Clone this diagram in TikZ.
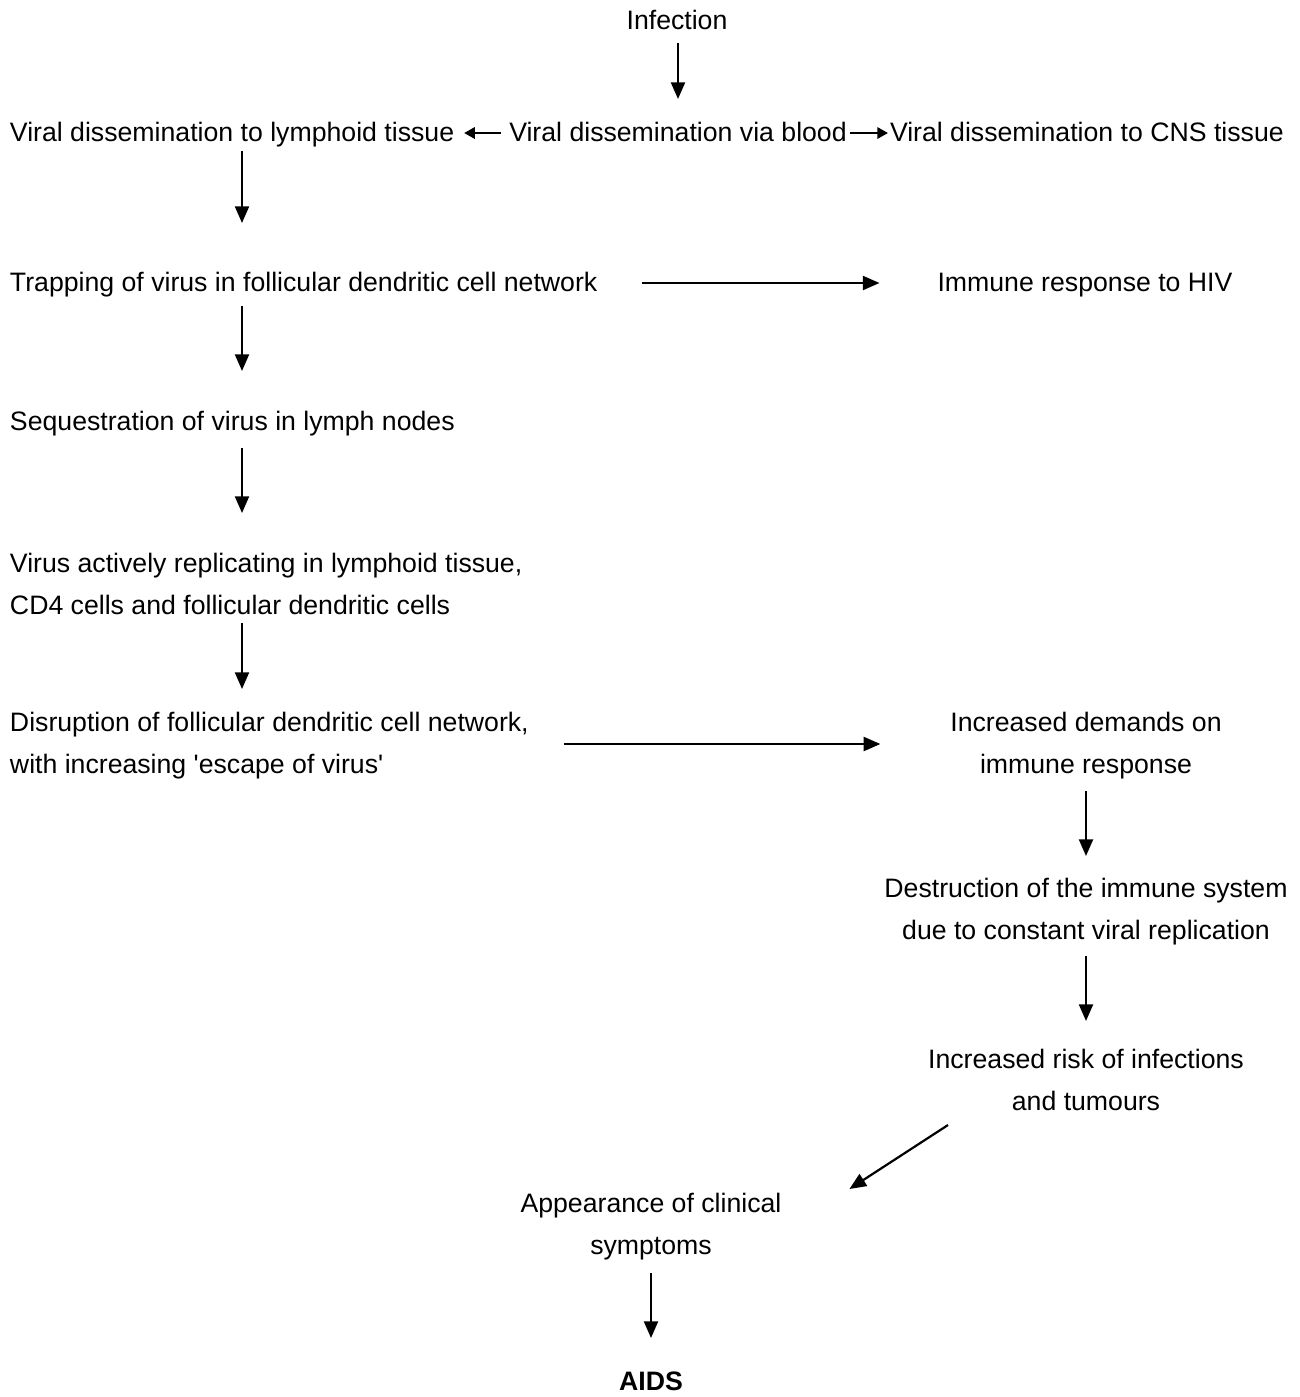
\documentclass[tikz,border=0pt]{standalone}
\usepackage{fontspec}
\setmainfont{Liberation Sans}
\usetikzlibrary{arrows.meta,calc}
\begin{document}
\begin{tikzpicture}[x=0.75pt,y=-0.75pt,
  every node/.style={inner sep=0pt,outer sep=0pt,font=\fontsize{20}{31.5}\selectfont},
  lbox/.style={anchor=west,align=left},
  cbox/.style={anchor=center,align=center},
  arr/.style={line width=1.65pt,-{Triangle[length=12.5pt,width=10.5pt]}},
  sarr/.style={line width=1.65pt,-{Triangle[length=8pt,width=8.5pt]}}]
\useasboundingbox (0,0) rectangle (1300,1397);
\node[cbox] (inf) at (677,21) {\strut Infection};
\node[lbox] (lymph) at (10,133) {\strut Viral dissemination to lymphoid tissue};
\node[cbox] (blood) at (678,133) {\strut Viral dissemination via blood};
\node[lbox] (cns) at (890,133) {\strut Viral dissemination to CNS tissue};
\node[lbox] (trap) at (10,283) {\strut Trapping of virus in follicular dendritic cell network};
\node[cbox] (immune) at (1085,283) {\strut Immune response to HIV};
\node[lbox] (seq) at (10,422) {\strut Sequestration of virus in lymph nodes};
\node[lbox] (active) at (10,585) {\strut Virus actively replicating in lymphoid tissue,\\\strut CD4 cells and follicular dendritic cells};
\node[lbox] (disrupt) at (10,744) {\strut Disruption of follicular dendritic cell network,\\\strut with increasing \textquotesingle escape of virus\textquotesingle};
\node[cbox] (demands) at (1086,744) {\strut Increased demands on\\\strut immune response};
\node[cbox] (destr) at (1086,910) {\strut Destruction of the immune system\\\strut due to constant viral replication};
\node[cbox] (risk) at (1086,1081) {\strut Increased risk of infections\\\strut and tumours};
\node[cbox] (appear) at (651,1225) {\strut Appearance of clinical\\\strut symptoms};
\node[cbox,font=\fontsize{20}{31.5}\selectfont\bfseries] (aids) at (651,1382) {\strut AIDS};

\draw[arr] ($(inf.south)+(1,1)$) -- ($(blood.north)+(0,-13)$);
\draw[sarr] ($(blood.west)+(-8,0)$) -- ($(lymph.east)+(10,0)$);
\draw[sarr] ($(blood.east)+(3,0)$) -- ($(cns.west)+(-2,0)$);
\draw[arr] ($(lymph.south west)+(232,-3)$) -- ($(trap.north west)+(232,-39)$);
\draw[arr] ($(trap.east)+(45,0)$) -- ($(immune.west)+(-58,0)$);
\draw[arr] ($(trap.south west)+(232,2)$) -- ($(seq.north west)+(232,-30)$);
\draw[arr] ($(seq.south west)+(232,5)$) -- ($(active.north west)+(232,-30)$);
\draw[arr] ($(active.south west)+(232,-4)$) -- ($(disrupt.north west)+(232,-13)$);
\draw[arr] ($(disrupt.east)+(35,0)$) -- ($(demands.west)+(-70,0)$);
\draw[arr] ($(demands.south)+(0,5)$) -- ($(destr.north)+(0,-12)$);
\draw[arr] ($(destr.south)+(0,4)$) -- ($(risk.north)+(0,-18)$);
\draw[arr] ($(risk.south)+(-138,2)$) -- ($(appear.north east)+(68,6)$);
\draw[arr] ($(appear.south)+(0,6)$) -- ($(aids.north)+(0,-23)$);
\end{tikzpicture}
\end{document}
